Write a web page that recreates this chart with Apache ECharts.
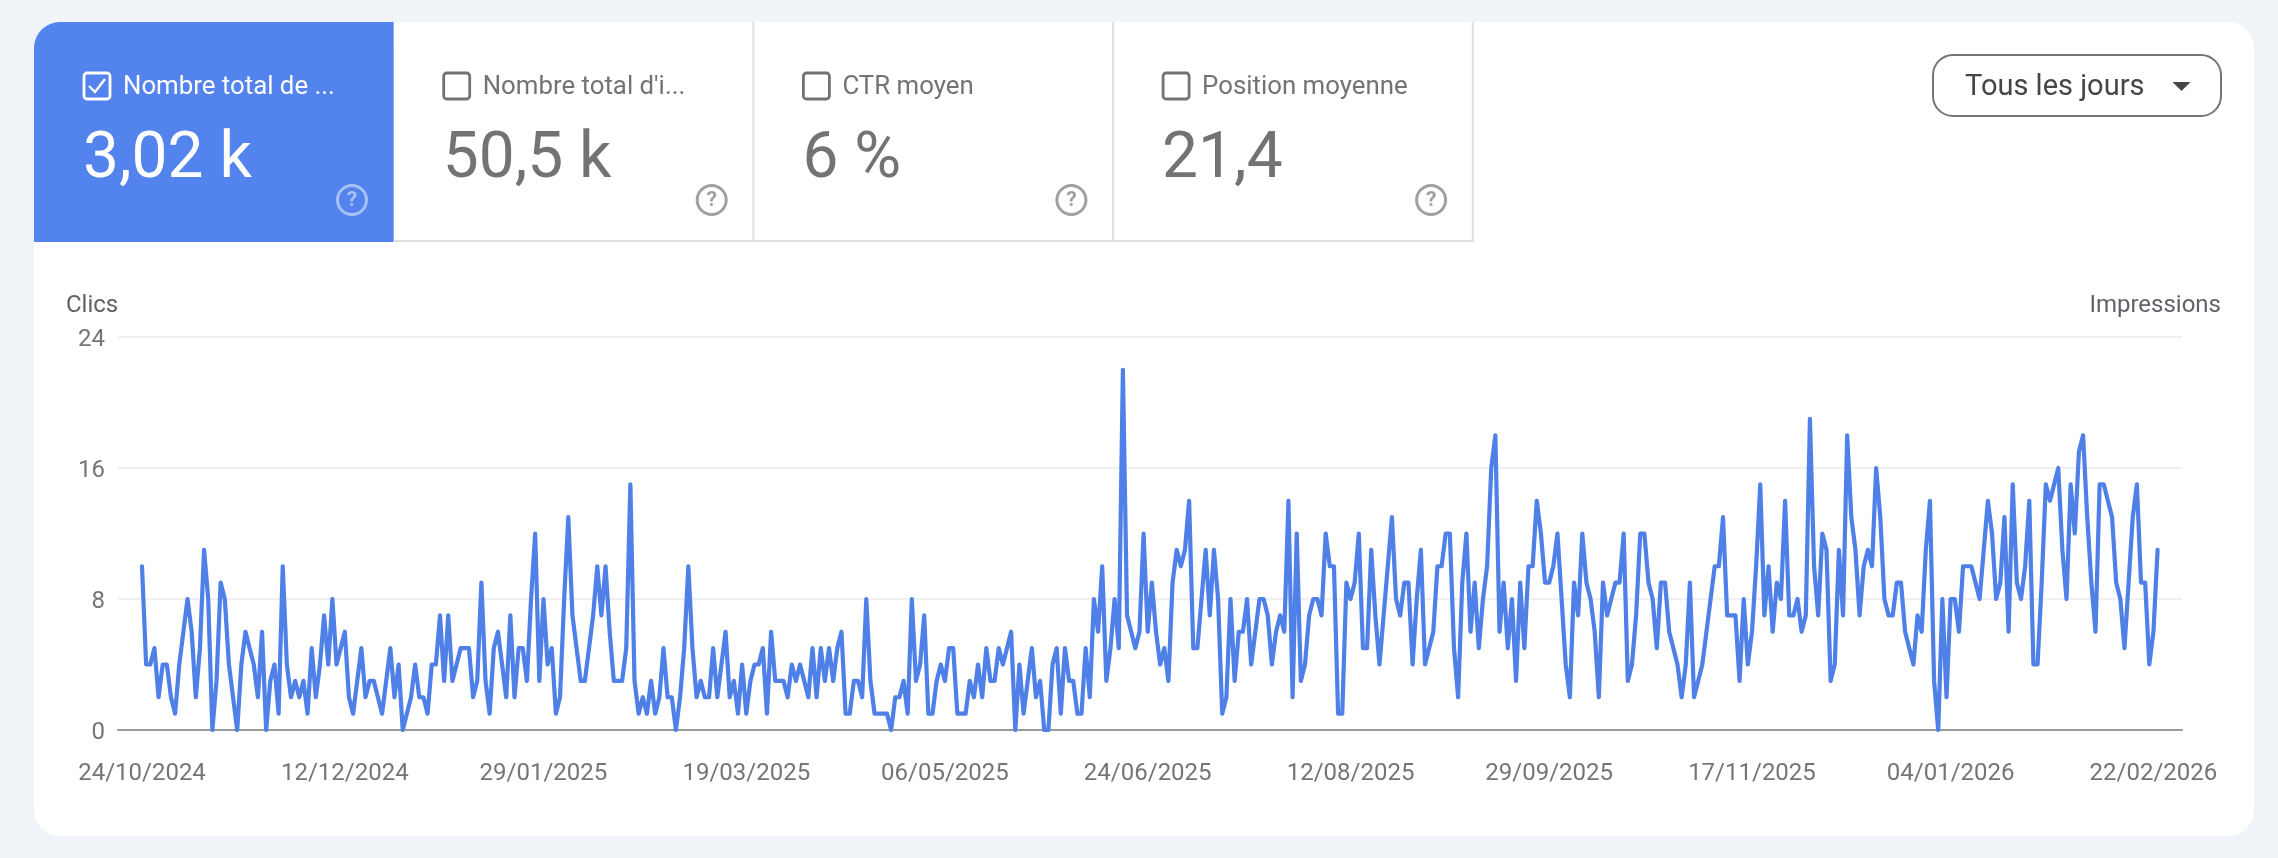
<!DOCTYPE html>
<html>
<head>
<meta charset="utf-8">
<title>Performances</title>
<script src="https://cdn.jsdelivr.net/npm/echarts@6/dist/echarts.min.js"></script>
<style>
  html, body { margin: 0; padding: 0; background: #f0f4f9; }
  #main { width: 2278px; height: 858px; }
</style>
</head>
<body>
<div id="main"></div>
<script>
// clics par jour
var dailyClicks = [
  10,4,4,5,2,4,4,2,1,4, 6,8,6,2,5,11,8,0,3,9, 8,4,2,0,4,6,5,4,2,6, 0,3,4,1,10,4,2,3,2,3,
  1,5,2,4,7,4,8,4,5,6, 2,1,3,5,2,3,3,2,1,3, 5,2,4,0,1,2,4,2,2,1, 4,4,7,3,7,3,4,5,5,5,
  2,3,9,3,1,5,6,4,2,7, 2,5,5,3,8,12,3,8,4,5, 1,2,8,13,7,5,3,3,5,7, 10,7,10,6,3,3,3,5,
  15,3,1,2,1,3,1,2,5,2, 2,0,2,5,10,5,2,3,2,2, 5,2,4,6,2,3,1,4,1,3, 4,4,5,1,6,3,3,3,2,4,
  3,4,3,2,5,2,5,3,5,3, 5,6,1,1,3,3,2,8,3,1, 1,1,1,0,2,2,3,1,8,3, 4,7,1,1,3,4,3,5,5,1,
  1,1,3,2,4,2,5,3,3,5, 4,5,6,0,4,1,3,5,2,3, 0,0,4,5,1,5,3,3,1,1, 5,2,8,6,
  10,3,5,8,5,22,7,6,5,6, 12,6,9,6,4,5,3,9,11,10, 11,14,5,5,8,11,7,11,8,1, 2,8,3,6,6,8,4,6,8,8,
  7,4,6,7,6,14,2,12,3,4, 7,8,8,7,12,10,10,1,1,9, 8,9,12,5,5,11,7,4,7,10, 13,8,7,9,9,4,8,11,4,5,
  6,10,10,12,12,5,2,9,12,6, 9,5,8,10,16,18,6,9,5,8, 3,9,5,10,10,14,12,9,9,10, 12,8,4,2,9,7,
  12,9,8,6,2,9,7,8,9,9, 12,3,4,7,12,12,9,8,5,9, 9,6,5,4,2,4,9,2,3,4, 6,8,10,10,13,7,7,7,3,8,
  4,6,10,15,7,10,6,9,8,14, 7,7,8,6,7,19,10,7,12,11, 3,4,11,7,18,13,11,7,10,11, 10,16,13,8,7,7,9,9,6,5,
  4,7,6,11,14,3,0,8,2,8, 8,6,10,10,10,9,8,11,14,12, 8,9,13,6,15,9,8,10,14,4, 4,9,15,14,15,16,11,8,15,12,
  17,18,13,9,6,15,15,14,13,9, 8,5,9,13,15,9,9,4,6,11
];
var tickDays = [0, 49, 97, 146, 194, 243, 292, 340, 389, 437, 486];
var tickLabels = ['24/10/2024', '12/12/2024', '29/01/2025', '19/03/2025', '06/05/2025', '24/06/2025',
  '12/08/2025', '29/09/2025', '17/11/2025', '04/01/2026', '22/02/2026'];
var metricNames = ['Nombre total de ...', "Nombre total d'i...", 'CTR moyen', 'Position moyenne'];
var metricValues = ['3,02 k', '50,5 k', '6 %', '21,4'];

var font = 'Roboto, sans-serif';
var tabLeft = 34, tabWidth = 359.7, tabTop = 22, tabBottom = 242;

// carte blanche et onglets
var elements = [
  { type: 'rect', z: -10, shape: { x: 34, y: 22, width: 2220, height: 814, r: 26 }, style: { fill: '#fff' } }
];
metricNames.forEach(function (name, i) {
  var x = tabLeft + i * tabWidth;
  var on = i === 0;
  var textColor = on ? '#fff' : '#737373';
  if (on) {
    elements.push({ type: 'rect', z: -9, shape: { x: x, y: tabTop, width: tabWidth, height: tabBottom - tabTop, r: [26, 0, 0, 0] }, style: { fill: '#5383ec' } });
  } else {
    elements.push({ type: 'line', z: -9, shape: { x1: x + tabWidth, y1: tabTop, x2: x + tabWidth, y2: tabBottom }, style: { stroke: '#e0e0e0', lineWidth: 2 } });
    elements.push({ type: 'line', z: -9, shape: { x1: x, y1: tabBottom - 1, x2: x + tabWidth + 1, y2: tabBottom - 1 }, style: { stroke: '#e0e0e0', lineWidth: 2 } });
  }
  // case a cocher
  elements.push({ type: 'rect', z: -8, shape: { x: x + 50, y: 73, width: 26, height: 26, r: 3 }, style: { fill: 'none', stroke: textColor, lineWidth: 2.8 } });
  if (on) {
    elements.push({ type: 'polyline', z: -8, shape: { points: [[x + 55, 86], [x + 61, 92], [x + 71, 79]] }, style: { fill: 'none', stroke: '#fff', lineWidth: 2.4 } });
  }
  elements.push({ type: 'text', z: -8, style: { text: name, x: x + 89, y: 88, fill: textColor, font: '400 25.8px ' + font, verticalAlign: 'middle' } });
  elements.push({ type: 'text', z: -8, style: { text: metricValues[i], x: x + 49, y: 161, fill: textColor, font: '400 64px ' + font, verticalAlign: 'middle' } });
  // aide
  elements.push({ type: 'circle', z: -8, shape: { cx: x + 318, cy: 200, r: 14.5 }, style: { fill: 'none', stroke: on ? '#a9c1f5' : '#a0a0a0', lineWidth: 3 } });
  elements.push({ type: 'text', z: -8, style: { text: '?', x: x + 318, y: 201, fill: on ? '#a9c1f5' : '#a0a0a0', font: '700 21px ' + font, align: 'center', verticalAlign: 'middle' } });
});
// selecteur de periode
elements.push({ type: 'rect', z: -8, shape: { x: 1933, y: 55, width: 288, height: 61, r: 20 }, style: { fill: '#fff', stroke: '#757575', lineWidth: 2 } });
elements.push({ type: 'text', z: -7, style: { text: 'Tous les jours', x: 1965, y: 88, fill: '#444746', font: '400 29px ' + font, verticalAlign: 'middle' } });
elements.push({ type: 'polygon', z: -7, shape: { points: [[2172.5, 82], [2190.5, 82], [2181.5, 91]] }, style: { fill: '#444746' } });
elements.push({ type: 'text', z: -7, style: { text: 'Clics', x: 66, y: 306, fill: '#5f6368', font: '400 24px ' + font, verticalAlign: 'middle' } });
elements.push({ type: 'text', z: -7, style: { text: 'Impressions', x: 2221, y: 306, fill: '#5f6368', font: '400 24px ' + font, align: 'right', verticalAlign: 'middle' } });

var myChart = echarts.init(document.getElementById('main'));

var option = {
  animation: false,
  backgroundColor: '#f0f4f9',
  textStyle: { fontFamily: font },
  graphic: { elements: elements },
  grid: { left: 118, right: 96, top: 337, height: 393 },
  xAxis: {
    type: 'value',
    min: -5.8,
    max: 492.9,
    splitLine: { show: false },
    axisLine: { onZero: false, lineStyle: { color: '#9a9a9a', width: 2 } },
    axisTick: { show: false },
    axisLabel: {
      customValues: tickDays,
      margin: 32,
      fontSize: 24,
      color: '#757575',
      formatter: function (v) { return tickLabels[tickDays.indexOf(v)]; }
    }
  },
  yAxis: {
    type: 'value',
    min: 0,
    max: 24,
    interval: 8,
    axisLine: { show: false },
    axisTick: { show: false },
    splitLine: { lineStyle: { color: '#f0f0f0', width: 2 } },
    axisLabel: { margin: 13, fontSize: 24, color: '#757575', verticalAlign: 'top', lineHeight: 6 }
  },
  series: [{
    name: 'Clics',
    type: 'line',
    showSymbol: false,
    clip: false,
    lineStyle: { color: '#4f80e8', width: 4.2, join: 'round', cap: 'round' },
    data: dailyClicks.map(function (v, i) { return [i, v]; })
  }]
};

myChart.setOption(option);
</script>
</body>
</html>
